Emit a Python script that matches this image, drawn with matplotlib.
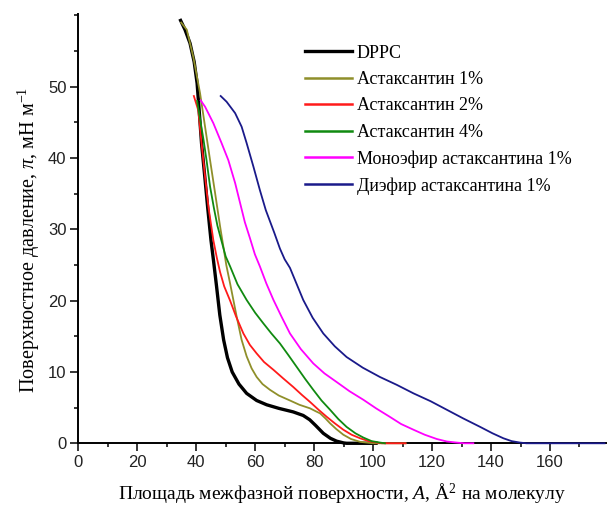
import matplotlib
matplotlib.use("Agg")
import matplotlib.pyplot as plt
from matplotlib.ticker import MultipleLocator

# ---- data (area A, Å^2/molecule ; surface pressure π, mN/m) ----
dppc_A = [34.7, 36.2, 37.9, 39.3, 40.3, 41.0, 41.8, 42.9, 43.9, 45.0, 45.9, 46.9, 48.0, 49.3, 50.6, 52.2, 54.5, 57.1, 60.5, 63.9, 68.0, 72.9, 76.3, 78.5, 80.5, 83.1, 85.5, 87.6, 90.0, 91.0, 101.0]
dppc_P = [59.3, 58.0, 56.1, 53.5, 50.5, 46.7, 42.1, 37.4, 33.0, 28.5, 25.5, 22.0, 18.0, 14.5, 12.0, 10.0, 8.3, 7.0, 6.0, 5.4, 4.9, 4.4, 3.9, 3.3, 2.5, 1.4, 0.7, 0.3, 0.05, 0.0, 0.0]

ast1_A = [34.9, 36.8, 39.0, 41.3, 43.0, 44.7, 46.4, 48.1, 49.2, 50.2, 51.5, 53.7, 55.4, 57.1, 58.8, 60.5, 62.5, 65.0, 68.0, 71.8, 75.0, 78.6, 80.5, 82.0, 83.8, 85.4, 87.5, 89.9, 92.5, 95.6, 100.0, 111.0]
ast1_P = [59.0, 58.0, 54.2, 49.1, 44.4, 39.7, 35.1, 30.4, 27.6, 25.0, 22.4, 17.8, 14.5, 12.2, 10.5, 9.3, 8.3, 7.5, 6.7, 6.0, 5.4, 4.9, 4.5, 4.2, 3.5, 2.8, 2.0, 1.2, 0.6, 0.2, 0.0, 0.0]

ast2_A = [39.2, 40.7, 41.8, 43.0, 44.2, 45.8, 47.0, 48.1, 49.5, 51.5, 53.5, 56.0, 58.2, 60.5, 63.0, 66.2, 69.5, 72.9, 75.8, 78.6, 81.5, 84.3, 87.0, 89.9, 92.7, 95.6, 98.5, 101.2, 103.0, 111.0]
ast2_P = [48.7, 46.7, 42.1, 37.4, 33.0, 28.5, 26.0, 24.0, 22.0, 20.0, 17.8, 15.4, 13.8, 12.6, 11.4, 10.3, 9.1, 7.9, 6.8, 5.8, 4.7, 3.7, 2.8, 1.9, 1.2, 0.7, 0.3, 0.1, 0.0, 0.0]

ast4_A = [40.3, 41.5, 42.5, 43.5, 44.7, 46.0, 47.2, 48.3, 50.0, 51.5, 54.0, 57.1, 60.0, 62.8, 65.5, 68.4, 71.2, 74.1, 77.0, 79.7, 82.5, 85.4, 88.2, 91.0, 94.0, 96.7, 99.5, 102.3, 104.0]
ast4_P = [48.0, 45.0, 42.5, 39.7, 36.0, 33.0, 30.5, 28.8, 26.2, 24.8, 22.3, 20.1, 18.3, 16.8, 15.4, 14.0, 12.4, 10.7, 9.0, 7.5, 6.0, 4.7, 3.4, 2.3, 1.4, 0.8, 0.3, 0.1, 0.0]

mono_A = [41.5, 43.0, 45.8, 48.6, 50.9, 53.2, 55.0, 56.5, 58.2, 59.9, 61.6, 63.8, 66.2, 69.0, 71.8, 75.5, 79.7, 83.5, 87.6, 92.0, 96.7, 101.0, 105.7, 109.5, 113.7, 117.5, 121.6, 125.0, 128.3, 131.0, 134.0]
mono_P = [48.1, 47.2, 44.9, 42.1, 39.7, 36.5, 33.5, 31.0, 28.8, 26.5, 24.8, 22.4, 20.1, 17.7, 15.4, 13.2, 11.2, 9.8, 8.6, 7.3, 6.1, 4.9, 3.7, 2.7, 1.9, 1.2, 0.6, 0.25, 0.1, 0.0, 0.0]

di_A = [48.3, 50.3, 53.2, 55.4, 57.1, 59.4, 61.6, 63.6, 66.5, 68.4, 70.0, 71.8, 74.0, 76.3, 79.5, 83.1, 87.0, 91.0, 96.5, 102.3, 108.0, 113.7, 119.5, 125.0, 130.5, 136.3, 140.5, 144.2, 147.0, 149.8, 152.0, 178.5]
di_P = [48.7, 47.9, 46.3, 44.4, 42.1, 38.8, 35.5, 32.7, 29.5, 27.3, 25.8, 24.6, 22.4, 20.1, 17.6, 15.4, 13.6, 12.1, 10.6, 9.3, 8.2, 7.0, 5.9, 4.7, 3.5, 2.3, 1.4, 0.7, 0.3, 0.1, 0.0, 0.0]

labels = ["DPPC", "Астаксантин 1%", "Астаксантин 2%", "Астаксантин 4%",
          "Моноэфир астаксантина 1%", "Диэфир астаксантина 1%"]
x_ticks = [0, 20, 40, 60, 80, 100, 120, 140, 160]
y_ticks = [0, 10, 20, 30, 40, 50]

series = [(dppc_A, dppc_P), (ast1_A, ast1_P), (ast2_A, ast2_P),
          (ast4_A, ast4_P), (mono_A, mono_P), (di_A, di_P)]
colors = ["#000000", "#8f8f2a", "#ff1a1a", "#108a10", "#ff00ff", "#1a1a8a"]
widths = [2.4, 1.3, 1.3, 1.3, 1.3, 1.3]

plt.rcParams["mathtext.fontset"] = "custom"
plt.rcParams["mathtext.rm"] = "Liberation Serif"
plt.rcParams["mathtext.it"] = "Liberation Serif:italic"

fig = plt.figure(figsize=(6.14, 5.08), dpi=100)
ax = fig.add_axes([0.1275, 0.1274, 0.8595, 0.845])

for (a, p), c, w, lab in zip(series, colors, widths, labels):
    ax.plot(a, p, color=c, lw=w, label=lab, zorder=3, clip_on=False)

ax.set_xlim(0, 179)
ax.set_ylim(0, 60.2)
ax.set_xticks(x_ticks)
ax.set_yticks(y_ticks)
ax.xaxis.set_minor_locator(MultipleLocator(10))
ax.yaxis.set_minor_locator(MultipleLocator(5))
for s in ["top", "right"]:
    ax.spines[s].set_visible(False)
for s in ["left", "bottom"]:
    ax.spines[s].set_linewidth(1.4)
ax.tick_params(which="major", direction="out", length=5.5, width=1.1,
               labelsize=12, pad=3)
ax.tick_params(which="minor", direction="out", length=3.2, width=1.1)
for t in ax.get_xticklabels() + ax.get_yticklabels():
    t.set_fontfamily("Liberation Sans")
    t.set_color("#222222")

ax.set_xlabel("Площадь межфазной поверхности, $\\mathit{A}$, Å$^{2}$ на молекулу",
              fontfamily="Liberation Serif", fontsize=14, labelpad=8)
ax.set_ylabel("Поверхностное давление, $\\mathit{\\pi}$, мН м$^{-1}$",
              fontfamily="Liberation Serif", fontsize=14.5)
ax.yaxis.set_label_coords(-0.068, 0.474)

leg = fig.legend(loc="upper left", bbox_to_anchor=(0.497, 0.912),
                 frameon=False, borderpad=0, borderaxespad=0,
                 handlelength=2.6, handletextpad=0.25, labelspacing=0.52,
                 prop={"family": "Liberation Serif", "size": 13})
for line in leg.get_lines():
    line.set_linewidth(1.8)
leg.get_lines()[0].set_linewidth(2.4)

fig.savefig("out.png", dpi=100, facecolor="white")
